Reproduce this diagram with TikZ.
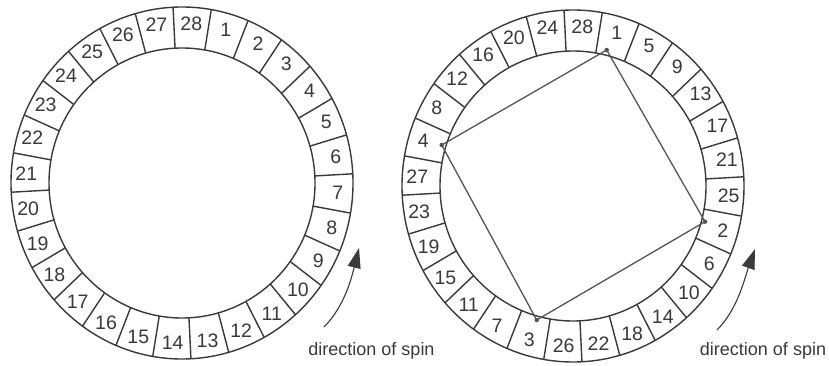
\documentclass[tikz,border=0pt]{standalone}
\usepackage{fontspec}
\setmainfont{Liberation Sans}
\usetikzlibrary{arrows.meta}
\definecolor{ink}{HTML}{3A3A3A}
\definecolor{sqline}{HTML}{555555}
\newcommand{\ringdraw}[4]{%
  \draw[ringline] (#1,#2) ellipse [x radius=171pt, y radius=176pt];
  \draw[ringline] (#1,#2) ellipse [x radius=133pt, y radius=135pt];
  \foreach \k in {0,...,27}{
    \pgfmathsetmacro{\ang}{93-360/28*\k}
    \draw[ringline] ({#1+133*cos(\ang)},{#2-135*sin(\ang)}) -- ({#1+171*cos(\ang)},{#2-176*sin(\ang)});
  }
  \foreach \v [count=\i from 0] in {#4}{
    \pgfmathsetmacro{\ang}{93-360/28*(\i+0.5)}
    \node[cellnum] (#3\i) at ({#1+156*cos(\ang)},{#2-160*sin(\ang)}) {\v};
  }
}
\begin{document}
\begin{tikzpicture}[x=1pt,y=-1pt,
  ringline/.style={draw=ink, line width=1.4pt},
  cellnum/.style={text=ink, font=\fontsize{19.5}{19.5}\selectfont, inner sep=0pt},
  spinlabel/.style={text=ink, font=\fontsize{18}{18}\selectfont, inner sep=0pt, anchor=base},
  spinarrow/.style={draw=ink, line width=1.1pt, -{Triangle[length=20pt,width=13pt]}},
  squareline/.style={draw=sqline, line width=1.3pt},
  vertexmark/.style={fill=sqline, circle, inner sep=0pt, minimum size=4.5pt}
]
\useasboundingbox[fill=white] (0,0) rectangle (829,366);

% left ring
\ringdraw{182}{183}{L}{28,1,2,3,4,5,6,7,8,9,10,11,12,13,14,15,16,17,18,19,20,21,22,23,24,25,26,27}
% right ring
\ringdraw{573}{186}{R}{28,1,5,9,13,17,21,25,2,6,10,14,18,22,26,3,7,11,15,19,23,27,4,8,12,16,20,24}

% square inside the right ring
\coordinate (q1) at (606.7,50);
\coordinate (q2) at (705,221.7);
\coordinate (q3) at (536.7,320);
\coordinate (q4) at (441.7,145);
\draw[squareline] (q1) -- (q2) -- (q3) -- (q4) -- cycle;
\foreach \q in {q1,q2,q3,q4}{
  \node[vertexmark] at (\q) {};
}

% spin arrows
\coordinate (ls) at (324,327);
\coordinate (lt) at (359,248);
\draw[spinarrow] (ls) .. controls (345,306) and (352,276) .. (lt);
\coordinate (rs) at (717,330);
\coordinate (rt) at (755,249);
\draw[spinarrow] (rs) .. controls (738,309) and (745,277) .. (rt);

% labels
\node[spinlabel] (lspin) at (371.5,355) {direction of spin};
\node[spinlabel] (rspin) at (763,355) {direction of spin};
\end{tikzpicture}
\end{document}
